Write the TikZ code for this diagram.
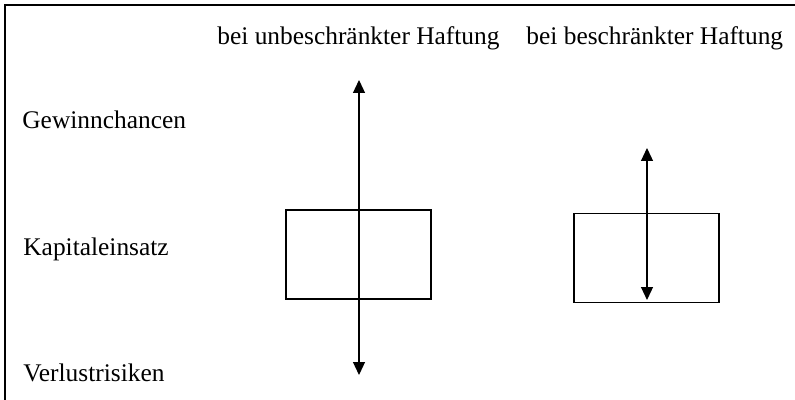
\documentclass[tikz,border=0pt]{standalone}
\usepackage{fontspec}
\setmainfont{Liberation Serif}
\usetikzlibrary{arrows.meta}
\begin{document}
\begin{tikzpicture}[x=0.5pt,y=-0.5pt,
  every node/.style={font=\fontsize{12.7}{15}\selectfont,inner sep=0pt},
  lbl/.style={anchor=base west},
  kapbox/.style={draw,line width=0.6pt,minimum width=72.5pt,minimum height=44.5pt},
  pfeil/.style={{Triangle[width=6pt,length=6.5pt]}-{Triangle[width=6pt,length=6.5pt]},line width=0.6pt}]
  \useasboundingbox (0,0) rectangle (795,400);
  % Rahmen (nur oben und links)
  \draw[line width=1pt] (5,400) -- (5,5) -- (795,5);
  % Spaltenkoepfe
  \node[lbl] (unbeschr) at (217,45) {bei unbeschränkter Haftung};
  \node[lbl] (beschr) at (526,45) {bei beschränkter Haftung};
  % Zeilen
  \node[lbl] (gewinn) at (22,129) {Gewinnchancen};
  \node[lbl] (kapital) at (23,256) {Kapitaleinsatz};
  \node[lbl] (verlust) at (23,381) {Verlustrisiken};
  % Kapitaleinsatz als Kasten
  \node[kapbox] (boxU) at (358.5,254.5) {};
  \node[kapbox] (boxB) at (646.5,258) {};
  % Pfeile
  \coordinate (topU) at (359,80);
  \coordinate (botU) at (359,375);
  \coordinate (topB) at (647,148);
  \coordinate (botB) at (647,300);
  \draw[pfeil] (topU) -- (botU);
  \draw[pfeil] (topB) -- (botB);
\end{tikzpicture}
\end{document}
